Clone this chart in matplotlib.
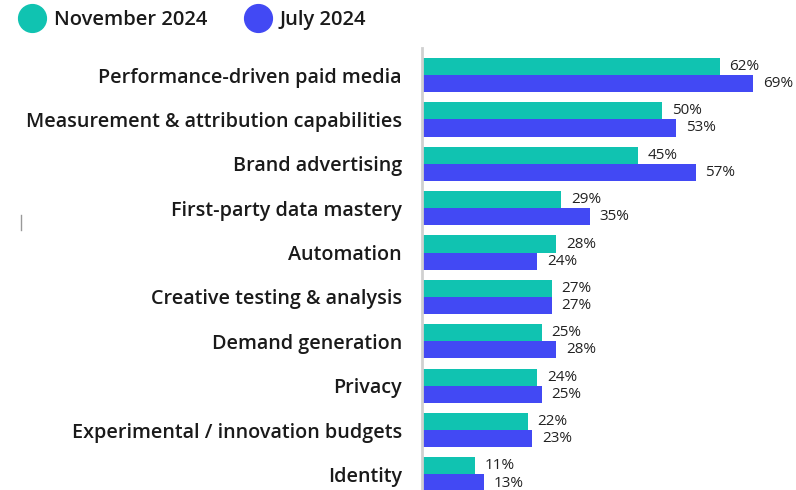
import numpy as np
import matplotlib
matplotlib.use('Agg')
import matplotlib.pyplot as plt
from matplotlib.lines import Line2D

# data
categories = ['Performance-driven paid media', 'Measurement & attribution capabilities',
              'Brand advertising', 'First-party data mastery', 'Automation',
              'Creative testing & analysis', 'Demand generation', 'Privacy',
              'Experimental / innovation budgets', 'Identity']
nov_2024 = [62, 50, 45, 29, 28, 27, 25, 24, 22, 11]
jul_2024 = [69, 53, 57, 35, 24, 27, 28, 25, 23, 13]
series_names = ['November 2024', 'July 2024']

TEAL = '#10C3B1'
BLUE = '#4249F4'

plt.rcParams['font.family'] = ['Open Sans', 'DejaVu Sans']

fig = plt.figure(figsize=(7.96, 4.9), dpi=100)
ax = fig.add_axes([422/796, 0, 1 - 422/796, 442/490])

y = np.arange(len(categories))
h = 0.385
ax.barh(y - h/2, nov_2024, height=h, color=TEAL)
ax.barh(y + h/2, jul_2024, height=h, color=BLUE)

for yi, v in zip(y, nov_2024):
    ax.text(v + 2, yi - h/2, f'{v}%', va='center', ha='left', fontsize=11, color='#222222')
for yi, v in zip(y, jul_2024):
    ax.text(v + 2, yi + h/2, f'{v}%', va='center', ha='left', fontsize=11, color='#222222')

ax.set_xlim(0, 374/4.8)
ax.set_ylim(9.35, -0.61)
ax.set_yticks(y)
ax.set_yticklabels(categories, fontsize=14.2, fontweight='semibold', color='#1a1a1a')
ax.tick_params(axis='y', length=0, pad=14.5)
ax.set_xticks([])
for s in ['top', 'right', 'bottom']:
    ax.spines[s].set_visible(False)
ax.spines['left'].set_color('#d0d0d0')
ax.spines['left'].set_linewidth(2)

# legend
handles = [Line2D([], [], marker='o', linestyle='', markersize=20, color=TEAL),
           Line2D([], [], marker='o', linestyle='', markersize=20, color=BLUE)]
leg = fig.legend(handles, series_names, loc='upper left', bbox_to_anchor=(-0.003, 1.016),
                 ncol=2, frameon=False, fontsize=14.5, handletextpad=0.3, columnspacing=1.7,
                 handlelength=1.6)
for t in leg.get_texts():
    t.set_fontweight('semibold')
    t.set_color('#1a1a1a')

# small stray mark on the left
fig.add_artist(Line2D([21/796, 21/796], [1 - 215/490, 1 - 230/490], color='#999999', lw=1))

fig.savefig('out.png', dpi=100)
